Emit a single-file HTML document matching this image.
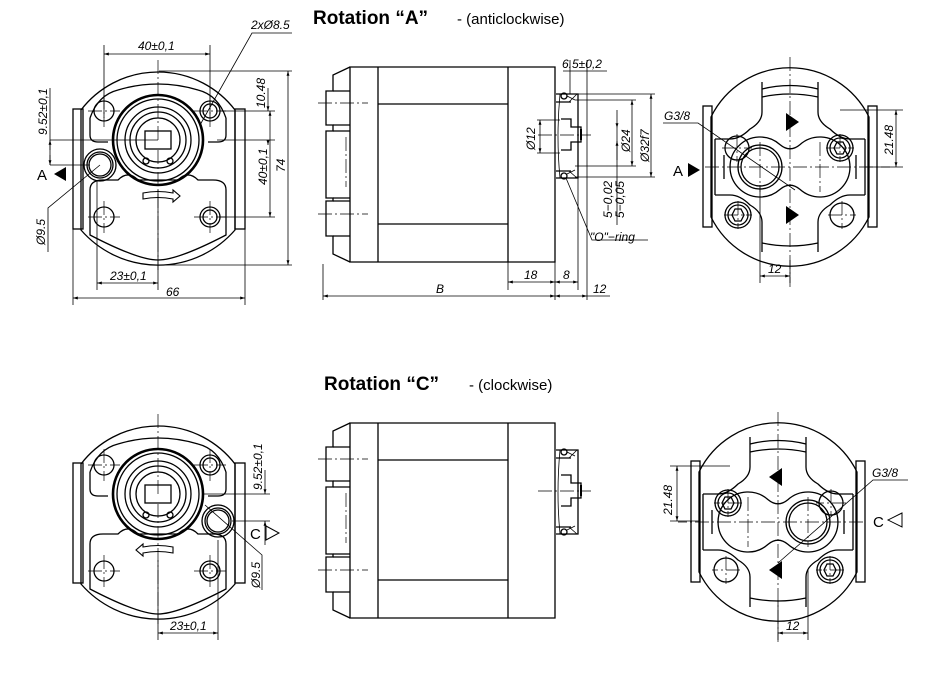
<!DOCTYPE html>
<html><head><meta charset="utf-8"><style>
html,body{margin:0;padding:0;background:#fff;}
svg{display:block;}
.t{font-family:"Liberation Sans",sans-serif;font-style:italic;font-size:12px;fill:#000;}
.h{font-family:"Liberation Sans",sans-serif;font-size:19px;font-weight:bold;fill:#000;}
.s{font-family:"Liberation Sans",sans-serif;font-size:15px;fill:#000;}
</style></head><body>
<svg width="940" height="699" viewBox="0 0 940 699" xmlns="http://www.w3.org/2000/svg">
<defs>
<marker id="ar" viewBox="0 0 10 10" refX="10" refY="5" markerWidth="8" markerHeight="6" orient="auto-start-reverse"><path d="M0,2 L10,5 L0,8 z" fill="#000"/></marker>
<g id="lv" fill="none" stroke="#000" stroke-width="1.3">
  <rect x="-85" y="-31" width="10" height="120"/>
  <rect x="77" y="-31" width="10" height="120"/>
  <path d="M-77,-30 A97,97 0 0 1 77,-30 L77,90 A102,102 0 0 1 -77,90 Z"/>
  <path d="M-68,-22 L-68,-5 Q-68,2 -60,2 L-50,2 M68,-22 L68,-5 Q68,2 60,2 L50,2"/>
  <path d="M-68,-22 Q-60,-45 -40,-50 Q0,-62 40,-50 Q60,-45 68,-22"/>
  <path d="M-68,50 L-68,95 Q-20,120 0,120 Q20,120 68,95 L68,50 Q68,40 55,40 L40,40 Q30,30 20,40 L-20,40 Q-30,30 -40,40 L-55,40 Q-68,40 -68,50"/>
  <circle r="45" stroke-width="2.6"/>
  <circle r="41"/>
  <circle r="33"/>
  <circle r="28"/>
  <circle r="22"/>
  <rect x="-13" y="-9" width="26" height="18"/>
  <circle cx="-12" cy="21" r="3"/><circle cx="12" cy="21" r="3"/>
  <circle cx="-54" cy="-29" r="10"/><circle cx="52" cy="-29" r="10"/><circle cx="52" cy="-29" r="7"/>
  <circle cx="-54" cy="77" r="10"/><circle cx="52" cy="77" r="10"/><circle cx="52" cy="77" r="7"/>
  <path d="M0,-80 V0 M0,10 V130 M-70,-29 H-38 M36,-29 H68 M-70,77 H-38 M36,77 H68 M-54,-45 V-13 M52,-45 V-13 M-54,61 V93 M52,61 V93" stroke-width="0.7" stroke-dasharray="14,3,2,3"/>
</g>
<g id="rv" fill="none" stroke="#000" stroke-width="1.3">
  <rect x="-87" y="-61" width="9" height="121"/>
  <rect x="78" y="-61" width="9" height="121"/>
  <path d="M-79,-50 A88,88 0 0 1 79,-50 L79,50 A88,88 0 0 1 -79,50 Z"/>
  <path d="M-28,-85 L-28,-55 Q-28,-45 -40,-38 Q-50,-28 -60,-28 H-75 M28,-85 L28,-55 Q28,-45 40,-38 Q50,-28 60,-28 H75"/>
  <path d="M-28,-78 Q0,-85 28,-78 M-28,-70 Q0,-76 28,-70"/>
  <path d="M-28,85 L-28,55 Q-28,45 -40,38 Q-50,28 -60,28 H-75 M28,85 L28,55 Q28,45 40,38 Q50,28 60,28 H75"/>
  <path d="M-28,76 Q0,82 28,76"/>
  <path d="M-75,-28 L-75,28 M75,-28 L75,28"/>
  <path d="M-10,-22.4 A30,30 0 1 0 -10,22.4 Q0,14 10,22.4 A30,30 0 1 0 10,-22.4 Q0,-14 -10,-22.4 Z"/>
  <circle cx="-30" cy="0" r="19"/><circle cx="-30" cy="0" r="22"/>
  <circle cx="-53" cy="-19" r="12"/>
  <circle cx="50" cy="-19" r="13"/><circle cx="50" cy="-19" r="10"/>
  <path d="M44,-19 L47,-25 L53,-25 L56,-19 L53,-13 L47,-13 Z"/>
  <circle cx="-52" cy="48" r="13"/><circle cx="-52" cy="48" r="10"/>
  <path d="M-58,48 L-55,42 L-49,42 L-46,48 L-49,54 L-55,54 Z"/>
  <circle cx="52" cy="48" r="12"/>
  <path d="M-66,-12 V12 M66,-12 V12"/>
  <path d="M-4,-54 L9,-45 L-4,-36 Z M-4,39 L9,48 L-4,57 Z" fill="#000" stroke="none"/>
  <path d="M0,-110 V120 M-85,0 H100 M-30,-25 V25 M30,-25 V25 M-68,-19 H-38 M36,-19 H64 M-66,48 H-38 M38,48 H66 M-53,-33 V-5 M50,-33 V-5 M-52,34 V62 M52,34 V62" stroke-width="0.7" stroke-dasharray="14,3,2,3"/>
</g>
<g id="sv" fill="none" stroke="#000" stroke-width="1.3">
  <path d="M27,0 H232 V195 H27 Z"/>
  <path d="M27,0 L10,8 V24 H3 V58 H10 V64 H3 V131 H10 V134 H3 V169 H10 V187 L27,195"/>
  <path d="M10,24 H27 M10,58 H27 M10,134 H27 M10,169 H27 M10,64 H27 M10,131 H27"/>
  <path d="M55,0 V195 M185,0 V195 M55,37 H185 M55,157 H185"/>
  <path d="M233,27 H255 V111 H233 M233,35 H248 M233,104 H248"/>
  <path d="M237,27 Q233,70 237,111" stroke-width="0.8"/>
  <path d="M238,52 H248 V60 H258 V75 H248 V83 H238"/>
  <path d="M258,62 V73" stroke-width="2"/>
  <circle cx="241" cy="29" r="3"/><circle cx="241" cy="109" r="3"/>
  <path d="M244,29 L252,33 M244,107 L252,103 M246,35 L254,27 M246,104 L254,111" stroke-width="0.8"/>
  <path d="M-5,36 H45 M-5,147 H45 M215,68 H268 M23,70 V120" stroke-width="0.7" stroke-dasharray="14,3,2,3"/>
</g>
</defs>

<text class="h" x="313" y="24">Rotation “A”</text><text class="s" x="457" y="24">- (anticlockwise)</text>
<text class="h" x="324" y="390">Rotation “C”</text><text class="s" x="469" y="390">- (clockwise)</text>

<g transform="translate(158,140)">
  <use href="#lv"/>
  <g fill="none" stroke="#000" stroke-width="1.3">
    <circle cx="-58" cy="25" r="16"/><circle cx="-58" cy="25" r="13"/><circle cx="-58" cy="25" r="11"/>
    <path d="M-15,53 Q0,50 15,53 L15,50 L22,56 L15,62 L15,59 Q0,56 -15,59 Z" stroke-width="1.1"/>
  </g>
</g>
<g fill="none" stroke="#000" stroke-width="0.8">
  <path d="M104,45 V118 M210,45 V118"/>
  <path d="M104,54 H210" marker-start="url(#ar)" marker-end="url(#ar)"/>
  <path d="M200,125 L252,33 H292"/>
  <path d="M220,111 H275 M217,140 H275 M219,217 H275 M159,71 H292 M159,265 H292"/>
  <path d="M268,88 V111" marker-end="url(#ar)"/><path d="M268,145 V140" marker-start="url(#ar)"/>
  <path d="M270,111 V217" marker-start="url(#ar)" marker-end="url(#ar)"/>
  <path d="M288,71 V265" marker-start="url(#ar)" marker-end="url(#ar)"/>
  <path d="M50,140 H158 M50,165 H90 M50,88 V165"/>
  <path d="M50,150 V140" marker-end="url(#ar)"/><path d="M50,155 V165" marker-end="url(#ar)"/>
  <path d="M48,252 V208 L100,165"/>
  <path d="M97,180 V290 M158,190 V290"/>
  <path d="M97,283 H158" marker-start="url(#ar)" marker-end="url(#ar)"/>
  <path d="M73,229 V305 M245,229 V305"/>
  <path d="M73,298 H245" marker-start="url(#ar)" marker-end="url(#ar)"/>
</g>
<text class="t" x="138" y="50">40±0,1</text>
<text class="t" x="251" y="29">2xØ8.5</text>
<text class="t" transform="translate(265,108) rotate(-90)">10.48</text>
<text class="t" transform="translate(267,185) rotate(-90)">40±0,1</text>
<text class="t" transform="translate(285,172) rotate(-90)">74</text>
<text class="t" transform="translate(47,135) rotate(-90)">9.52±0,1</text>
<text class="t" transform="translate(45,245) rotate(-90)">Ø9.5</text>
<text class="s" x="37" y="180">A</text><path d="M54,174 L66,167 V181 Z" fill="#000"/>
<text class="t" x="110" y="280">23±0,1</text>
<text class="t" x="166" y="296">66</text>

<g transform="translate(323,67)"><use href="#sv"/></g>
<g fill="none" stroke="#000" stroke-width="0.8">
  <path d="M323,264 V300 M555,262 V300 M578,178 V290 M587,60 V300 M508,262 V290 M570,60 V94"/>
  <path d="M323,296 H555" marker-start="url(#ar)" marker-end="url(#ar)"/>
  <path d="M508,282 H555" marker-start="url(#ar)" marker-end="url(#ar)"/>
  <path d="M555,282 H578" marker-start="url(#ar)" marker-end="url(#ar)"/>
  <path d="M555,296 H587" marker-start="url(#ar)" marker-end="url(#ar)"/>
  <path d="M587,296 H610 M563,71 H607"/>
  <path d="M575,94 H655 M575,100 H636 M575,166 H636 M575,177 H655 M537,120 H560 M537,153 H560"/>
  <path d="M651,94 V177" marker-start="url(#ar)" marker-end="url(#ar)"/>
  <path d="M632,100 V166" marker-start="url(#ar)" marker-end="url(#ar)"/>
  <path d="M540,120 V153" marker-start="url(#ar)" marker-end="url(#ar)"/>
  <path d="M617,110 V128" marker-end="url(#ar)"/><path d="M617,160 V141" marker-end="url(#ar)"/><path d="M617,128 V225"/>
  <path d="M566,178 L592,240 H648"/>
</g>
<text class="t" x="562" y="68">6.5±0,2</text>
<text class="t" transform="translate(535,150) rotate(-90)">Ø12</text>
<text class="t" transform="translate(630,152) rotate(-90)">Ø24</text>
<text class="t" transform="translate(649,162) rotate(-90)">Ø32f7</text>
<text class="t" transform="translate(612,218) rotate(-90)">5−0,02</text>
<text class="t" transform="translate(624,218) rotate(-90)">5−0,05</text>
<text class="t" x="590" y="241">"O"−ring</text>
<text class="t" x="436" y="293">B</text>
<text class="t" x="524" y="279">18</text>
<text class="t" x="563" y="279">8</text>
<text class="t" x="593" y="293">12</text>

<g transform="translate(790,167)"><use href="#rv"/></g>
<g fill="none" stroke="#000" stroke-width="0.8">
  <path d="M663,123 H698 L795,190"/>
  <path d="M840,110 H903 M865,167 H903"/>
  <path d="M896,110 V167" marker-start="url(#ar)" marker-end="url(#ar)"/>
  <path d="M760,185 V283 M790,260 V283"/>
  <path d="M760,276 H790" marker-start="url(#ar)" marker-end="url(#ar)"/>
</g>
<text class="t" x="664" y="120">G3/8</text>
<text class="t" transform="translate(893,155) rotate(-90)">21.48</text>
<text class="t" x="768" y="273">12</text>
<text class="s" x="673" y="176">A</text><path d="M688,163 L700,170 L688,177 Z" fill="#000"/>

<g transform="translate(158,494)">
  <use href="#lv"/>
  <g fill="none" stroke="#000" stroke-width="1.3">
    <circle cx="60" cy="27" r="16"/><circle cx="60" cy="27" r="13"/><circle cx="60" cy="27" r="11"/>
    <path d="M15,53 Q0,50 -15,53 L-15,50 L-22,56 L-15,62 L-15,59 Q0,56 15,59 Z" stroke-width="1.1"/>
  </g>
</g>
<g fill="none" stroke="#000" stroke-width="0.8">
  <path d="M203,494 H270 M232,521 H270"/>
  <path d="M265,470 V494" marker-end="url(#ar)"/><path d="M265,545 V521" marker-end="url(#ar)"/>
  <path d="M205,505 L262,555 V590"/>
  <path d="M158,560 V640 M218,540 V640"/>
  <path d="M158,633 H218" marker-start="url(#ar)" marker-end="url(#ar)"/>
</g>
<text class="t" transform="translate(262,490) rotate(-90)">9.52±0,1</text>
<text class="t" transform="translate(260,588) rotate(-90)">Ø9.5</text>
<text class="s" x="250" y="539">C</text><path d="M266,526 L279,533 L266,540 Z" fill="none" stroke="#000" stroke-width="1"/>
<text class="t" x="170" y="630">23±0,1</text>

<g transform="translate(323,423)"><use href="#sv"/></g>

<g transform="translate(778,522) scale(-1,1)"><use href="#rv"/></g>
<g fill="none" stroke="#000" stroke-width="0.8">
  <path d="M670,466 H730 M670,521 H700"/>
  <path d="M677,466 V521" marker-start="url(#ar)" marker-end="url(#ar)"/>
  <path d="M908,480 H873 L778,563"/>
  <path d="M778,600 V640 M808,570 V640"/>
  <path d="M778,633 H808" marker-start="url(#ar)" marker-end="url(#ar)"/>
</g>
<text class="t" x="872" y="477">G3/8</text>
<text class="t" transform="translate(672,515) rotate(-90)">21.48</text>
<text class="t" x="786" y="630">12</text>
<text class="s" x="873" y="527">C</text><path d="M902,513 L888,520 L902,527 Z" fill="none" stroke="#000" stroke-width="1"/>
</svg>
</body></html>
